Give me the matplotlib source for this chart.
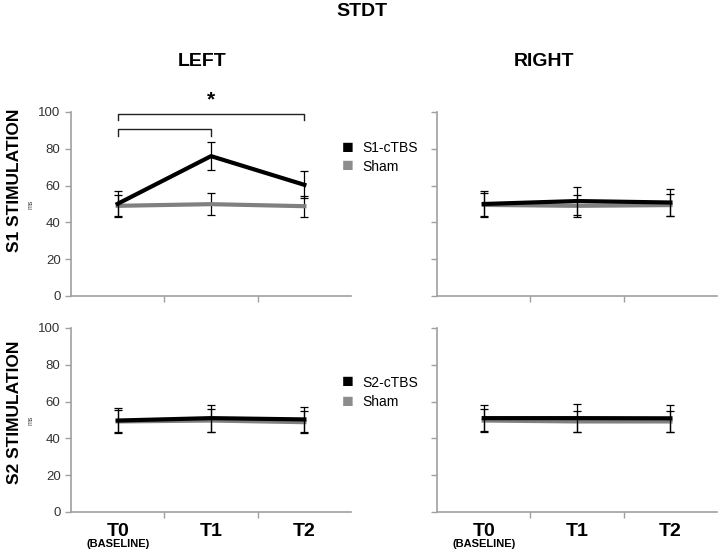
#!/usr/bin/env python3

import matplotlib
matplotlib.use("Agg")
import matplotlib.pyplot as plt

plt.rcParams['font.family'] = ['Liberation Sans', 'DejaVu Sans']

times = ['T0', 'T1', 'T2']

# S1 stimulation, left hemisphere
s1_left_active = [50.1, 76.0, 60.4]
s1_left_active_err = [7.2, 7.7, 7.4]
s1_left_sham = [49.0, 49.9, 48.8]
s1_left_sham_err = [5.8, 5.9, 5.8]

# S1 stimulation, right hemisphere
s1_right_active = [50.0, 51.6, 50.8]
s1_right_active_err = [7.0, 7.8, 7.4]
s1_right_sham = [49.5, 49.0, 49.4]
s1_right_sham_err = [6.2, 6.0, 6.0]

# S2 stimulation, left hemisphere
s2_left_active = [49.7, 51.0, 50.3]
s2_left_active_err = [6.9, 7.3, 7.0]
s2_left_sham = [49.2, 49.7, 48.8]
s2_left_sham_err = [6.0, 6.0, 6.0]

# S2 stimulation, right hemisphere
s2_right_active = [51.0, 51.0, 50.9]
s2_right_active_err = [6.9, 7.5, 7.2]
s2_right_sham = [49.7, 49.2, 49.2]
s2_right_sham_err = [6.2, 5.8, 5.8]

# significance brackets (from, to, level)
brackets = [(0, 2, 99), (0, 1, 90.5)]

GRAY_AX = '#a0a0a0'


def draw_panel(ax, active, active_err, sham, sham_err, show_labels, bottom_row):
    x = list(range(len(times)))
    ax.errorbar(x, sham, yerr=sham_err, color='#808080', lw=3, ecolor='black',
                elinewidth=0.9, capsize=3, capthick=0.9, zorder=2)
    ax.errorbar(x, active, yerr=active_err, color='black', lw=3, ecolor='black',
                elinewidth=0.9, capsize=3, capthick=0.9, zorder=3)
    ax.set_xlim(-0.5, 2.5)
    ax.set_ylim(0, 100)
    ax.set_yticks(range(0, 101, 20))
    ax.set_xticks([0.5, 1.5])
    ax.set_xticklabels([])
    for s in ['top', 'right']:
        ax.spines[s].set_visible(False)
    for s in ['left', 'bottom']:
        ax.spines[s].set_color(GRAY_AX)
        ax.spines[s].set_linewidth(1.2)
    ax.tick_params(colors=GRAY_AX, length=4, width=1, labelcolor='#333333',
                   labelsize=9.5)
    if show_labels:
        ax.set_ylabel('ms', fontsize=5, color='#444444', labelpad=3)
    else:
        ax.set_yticklabels([])
    if bottom_row:
        for i, t in enumerate(times):
            ax.text(i, -6, t, ha='center', va='top', fontsize=14,
                    fontweight='bold', clip_on=False)
        ax.text(0, -14.5, '(BASELINE)', ha='center', va='top', fontsize=8,
                fontweight='bold', clip_on=False)


fig = plt.figure(figsize=(7.2, 5.51), dpi=100)

w = 0.389
h = 0.334
ax_tl = fig.add_axes([0.0986, 0.4628, w, h])
ax_tr = fig.add_axes([0.607, 0.4628, w, h])
ax_bl = fig.add_axes([0.0986, 0.0708, w, h])
ax_br = fig.add_axes([0.607, 0.0708, w, h])

draw_panel(ax_tl, s1_left_active, s1_left_active_err, s1_left_sham, s1_left_sham_err, True, False)
draw_panel(ax_tr, s1_right_active, s1_right_active_err, s1_right_sham, s1_right_sham_err, False, False)
draw_panel(ax_bl, s2_left_active, s2_left_active_err, s2_left_sham, s2_left_sham_err, True, True)
draw_panel(ax_br, s2_right_active, s2_right_active_err, s2_right_sham, s2_right_sham_err, False, True)

for a, b, lvl in brackets:
    ax_tl.plot([a, a, b, b], [lvl - 3.5, lvl, lvl, lvl - 3.5], color='#222222',
               lw=1, clip_on=False)
ax_tl.text(1, 101.5, '*', ha='center', va='bottom', fontsize=15,
           fontweight='bold', clip_on=False)

# legends
for y0, name in [(148, 'S1-cTBS'), (383, 'S2-cTBS')]:
    for dy, lab, col in [(0, name, 'black'), (19, 'Sham', '#8c8c8c')]:
        yy = 1 - (y0 + dy) / 551
        fig.text(348 / 720, yy, '\u25A0', color=col, fontsize=14,
                 ha='center', va='center')
        fig.text(362 / 720, yy, lab, fontsize=10, ha='left', va='center')

fig.text(362 / 720, 1 - 12 / 551, 'STDT', ha='center', va='center',
         fontsize=14, fontweight='bold')
fig.text(202 / 720, 1 - 62 / 551, 'LEFT', ha='center', va='center',
         fontsize=14, fontweight='bold')
fig.text(544 / 720, 1 - 62 / 551, 'RIGHT', ha='center', va='center',
         fontsize=14, fontweight='bold')
fig.text(15 / 720, 1 - 180 / 551, 'S1 STIMULATION', ha='center', va='center',
         rotation=90, fontsize=12.5, fontweight='bold')
fig.text(15 / 720, 1 - 412 / 551, 'S2 STIMULATION', ha='center', va='center',
         rotation=90, fontsize=12.5, fontweight='bold')

fig.savefig('out.png', dpi=100)
